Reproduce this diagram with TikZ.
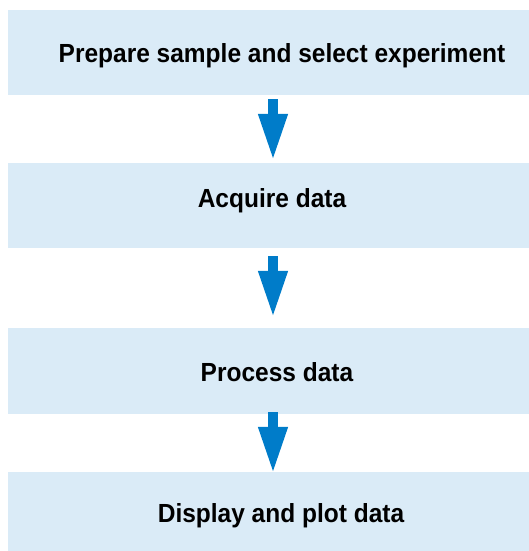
\documentclass[tikz,border=0pt]{standalone}
\usepackage{fontspec}
\setmainfont{Liberation Sans}[FakeStretch=0.935]
\usetikzlibrary{arrows.meta}
\definecolor{boxfill}{HTML}{DAEBF7}
\definecolor{arrblue}{HTML}{007CC9}
\begin{document}
\begin{tikzpicture}[x=1pt,y=-1pt,
  stepbox/.style={rectangle, fill=boxfill, draw=none, minimum width=521pt, inner sep=0pt},
  lbl/.style={anchor=base, inner sep=0pt, font=\fontsize{26.2}{30}\selectfont\bfseries},
  flowarr/.style={draw=arrblue, line width=10pt, -{Triangle[length=47pt,width=27pt]}, fill=arrblue}]
\useasboundingbox (0,0) rectangle (529,551);
\node[stepbox, minimum height=85pt] (b1) at (268.5,52.5) {};
\node[stepbox, minimum height=85pt] (b2) at (268.5,205.5) {};
\node[stepbox, minimum height=86pt] (b3) at (268.5,371) {};
\node[stepbox, minimum height=79pt] (b4) at (268.5,511.5) {};
\node[lbl] (t1) at (282,63) {Prepare sample and select experiment};
\node[lbl] (t2) at (272,207.3) {Acquire data};
\node[lbl] (t3) at (277,381) {Process data};
\node[lbl] (t4) at (281,522.3) {Display and plot data};
\draw[flowarr] ([xshift=4.5pt,yshift=-4pt]b1.south) -- ([xshift=4.5pt,yshift=2pt]b2.north);
\draw[flowarr] ([xshift=4.5pt,yshift=-8pt]b2.south) -- ([xshift=4.5pt,yshift=10pt]b3.north);
\draw[flowarr] ([xshift=4.5pt,yshift=2pt]b3.south) -- ([xshift=4.5pt,yshift=-2pt]b4.north);
\end{tikzpicture}
\end{document}
